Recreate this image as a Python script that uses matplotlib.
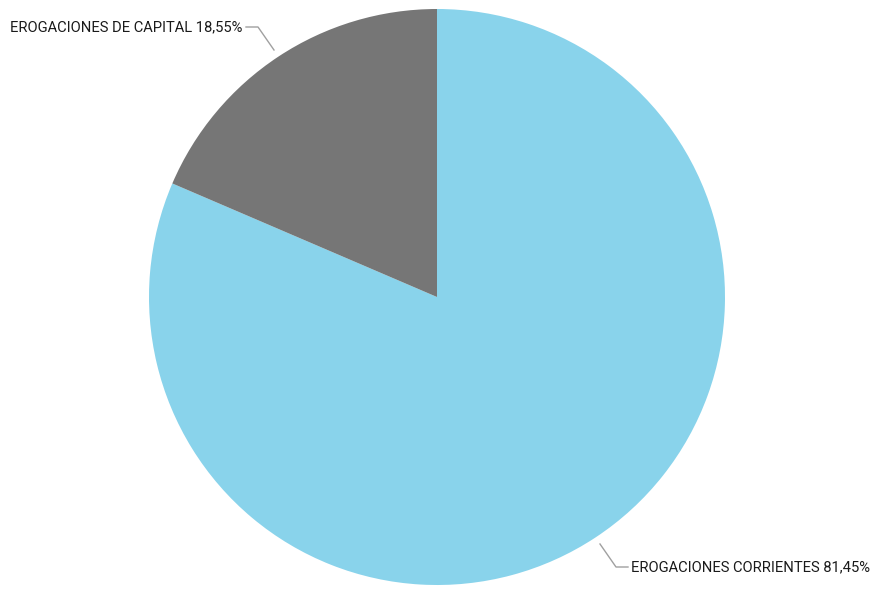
import matplotlib.pyplot as plt

labels = ['EROGACIONES CORRIENTES', 'EROGACIONES DE CAPITAL']
values = [81.45, 18.55]
colors = ['#89D3EB', '#767676']

fig = plt.figure(figsize=(8.72, 5.89), dpi=100)
ax = fig.add_axes([0, 0, 1, 1])

ax.pie(values, colors=colors, startangle=90, counterclock=False,
       center=(437, 292), radius=288, frame=True)
ax.set_xlim(0, 872)
ax.set_ylim(0, 589)
ax.set_aspect('equal')
ax.axis('off')

fam = ['Roboto', 'DejaVu Sans']
line_kw = dict(color='#a0a0a0', lw=1)

# etiqueta capital
ax.plot([246, 258, 274], [562, 562, 539], **line_kw)
ax.text(242, 562, f'{labels[1]} {values[1]:.2f}%'.replace('.', ','),
        ha='right', va='center', fontsize=10.6, family=fam, color='#1a1a1a')

# etiqueta corrientes
ax.plot([600, 616, 628], [45, 22, 22], **line_kw)
ax.text(631, 22, f'{labels[0]} {values[0]:.2f}%'.replace('.', ','),
        ha='left', va='center', fontsize=10.6, family=fam, color='#1a1a1a')

fig.savefig('out.png', dpi=100)
